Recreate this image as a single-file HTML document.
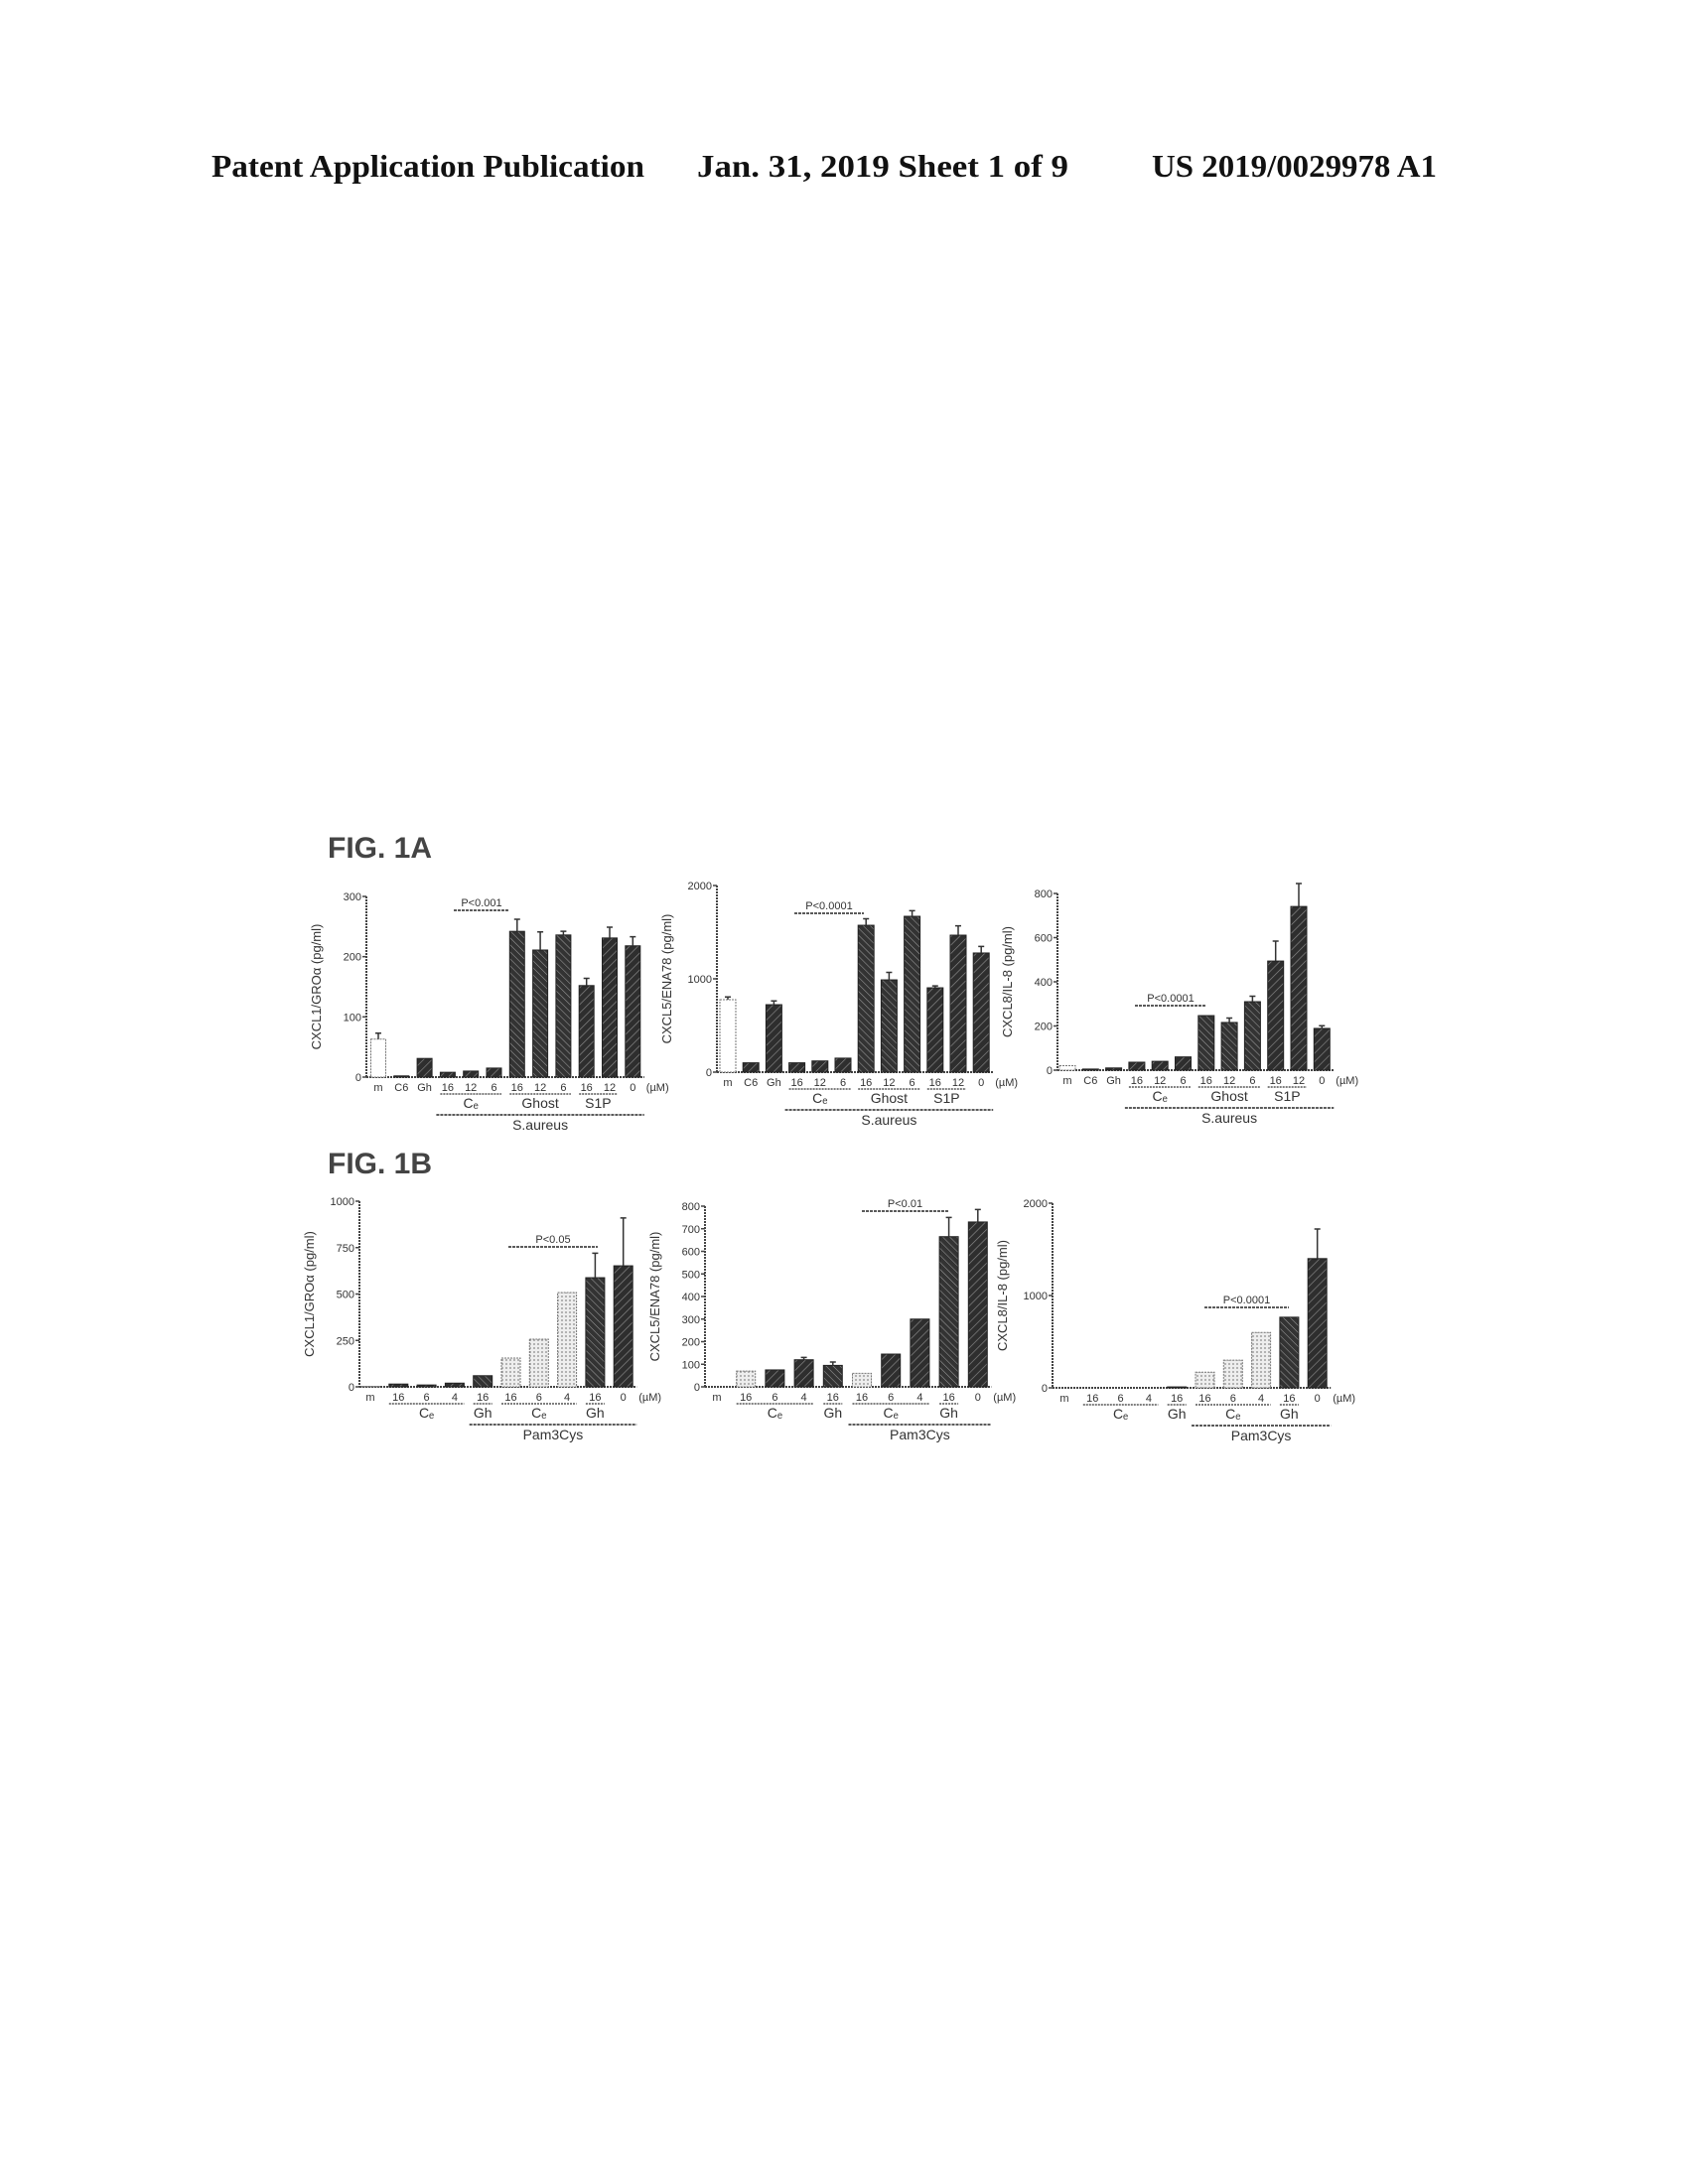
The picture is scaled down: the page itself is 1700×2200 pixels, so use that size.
<!DOCTYPE html>
<html><head><meta charset="utf-8"><style>
html,body{margin:0;padding:0;background:#fff;}
svg{display:block;}
text{font-family:"Liberation Sans",sans-serif;fill:#333;}
.hdr{font-family:"Liberation Serif",serif;font-weight:bold;fill:#111;font-size:32px;}
</style></head><body>
<svg id="page" width="1700" height="2200" viewBox="0 0 1700 2200" xmlns="http://www.w3.org/2000/svg">
<defs>
<pattern id="hatchD" width="6" height="6" patternUnits="userSpaceOnUse" patternTransform="rotate(45)">
<rect width="6" height="6" fill="#2e2e2e"/><line x1="0" y1="0" x2="0" y2="6" stroke="#8a8a8a" stroke-width="1.3"/></pattern>
<pattern id="hatchX" width="5" height="5" patternUnits="userSpaceOnUse" patternTransform="rotate(-45)">
<rect width="5" height="5" fill="#333"/><line x1="0" y1="0" x2="0" y2="5" stroke="#999" stroke-width="1.1"/></pattern>
<pattern id="dots" width="4" height="4" patternUnits="userSpaceOnUse">
<rect width="4" height="4" fill="#eee"/><circle cx="2" cy="2" r="0.9" fill="#888"/></pattern>
</defs>
<g>
<text class="hdr" x="213" y="178" textLength="436" lengthAdjust="spacingAndGlyphs">Patent Application Publication</text>
<text class="hdr" x="702" y="178" textLength="374" lengthAdjust="spacingAndGlyphs">Jan. 31, 2019  Sheet 1 of 9</text>
<text class="hdr" x="1160" y="178" textLength="287" lengthAdjust="spacingAndGlyphs">US 2019/0029978 A1</text>
</g>
<text x="330" y="864" font-size="30" font-weight="bold" style="fill:#444">FIG. 1A</text>
<text x="330" y="1182" font-size="30" font-weight="bold" style="fill:#444">FIG. 1B</text>
<g id="charts"></g>
</svg>
<script>
// Panel data
const catsA = ["m","C6","Gh","16","12","6","16","12","6","16","12","0"];
const valsA1 = [63,2,31,8,10,15,242,211,236,152,231,218];
const errA1 = [10,0,0,0,0,0,20,30,6,12,18,15];
const valsA2 = [776,100,723,100,120,150,1574,989,1670,904,1468,1277];
const errA2 = [30,0,40,0,0,0,70,80,60,20,100,70];
const valsA3 = [20,5,10,36,40,60,247,216,310,494,741,189];
const errA3 = [0,0,0,0,0,0,0,20,25,90,104,12];
const catsB = ["m","16","6","4","16","16","6","4","16","0"];
const valsB1 = [2,15,10,20,60,155,257,508,588,652];
const errB1 = [0,0,0,0,0,0,0,0,132,258];
const valsB2 = [0,70,75,120,95,60,145,300,665,730];
const errB2 = [0,0,0,10,15,0,0,0,85,55];
const valsB3 = [0,0,0,0,10,170,300,600,765,1400];
const errB3 = [0,0,0,0,0,0,0,0,0,320];
const ticksA1 = [0,100,200,300];
const ticksA2 = [0,1000,2000];
const ticksA3 = [0,200,400,600,800];
const ticksB1 = [0,250,500,750,1000];
const ticksB2 = [0,100,200,300,400,500,600,700,800];
const ticksB3 = [0,1000,2000];

const NS="http://www.w3.org/2000/svg";
const root=document.getElementById('charts');
function mk(tag,attrs,parent){const e=document.createElementNS(NS,tag);for(const k in attrs)e.setAttribute(k,attrs[k]);(parent||root).appendChild(e);return e;}

const panels=[
 {id:"a1",cats:catsA,vals:valsA1,errs:errA1,ticks:ticksA1,max:300,ax:369,top:903,base:1085,x0:381,step:23.3,w:15,
  ylab:"CXCL1/GROα (pg/ml)",styles:"odddddxxxddd",p:"P<0.001",px1:457,px2:513,py:917,
  groups:[["Cₑ",3,5],["Ghost",6,8],["S1P",9,10]],big:["S.aureus",3,11]},
 {id:"a2",cats:catsA,vals:valsA2,errs:errA2,ticks:ticksA2,max:2000,ax:722,top:892,base:1080,x0:733,step:23.2,w:16,
  ylab:"CXCL5/ENA78 (pg/ml)",styles:"odddddxxxddd",p:"P<0.0001",px1:800,px2:870,py:920,
  groups:[["Cₑ",3,5],["Ghost",6,8],["S1P",9,10]],big:["S.aureus",3,11]},
 {id:"a3",cats:catsA,vals:valsA3,errs:errA3,ticks:ticksA3,max:800,ax:1065,top:900,base:1078,x0:1075,step:23.3,w:16,
  ylab:"CXCL8/IL-8 (pg/ml)",styles:"odddddxxxddd",p:"P<0.0001",px1:1143,px2:1215,py:1013,
  groups:[["Cₑ",3,5],["Ghost",6,8],["S1P",9,10]],big:["S.aureus",3,11]},
 {id:"b1",cats:catsB,vals:valsB1,errs:errB1,ticks:ticksB1,max:1000,ax:362,top:1210,base:1397,x0:373,step:28.3,w:19,
  ylab:"CXCL1/GROα (pg/ml)",styles:"odddxlllxd",p:"P<0.05",px1:512,px2:602,py:1256,
  groups:[["Cₑ",1,3],["Gh",4,4],["Cₑ",5,7],["Gh",8,8]],big:["Pam3Cys",4,9]},
 {id:"b2",cats:catsB,vals:valsB2,errs:errB2,ticks:ticksB2,max:800,ax:710,top:1215,base:1397,x0:722,step:29.2,w:19,
  ylab:"CXCL5/ENA78 (pg/ml)",styles:"olddxlddxd",p:"P<0.01",px1:868,px2:955,py:1220,
  groups:[["Cₑ",1,3],["Gh",4,4],["Cₑ",5,7],["Gh",8,8]],big:["Pam3Cys",5,9]},
 {id:"b3",cats:catsB,vals:valsB3,errs:errB3,ticks:ticksB3,max:2000,ax:1060,top:1212,base:1398,x0:1072,step:28.3,w:19,
  ylab:"CXCL8/IL-8 (pg/ml)",styles:"odddxlllxd",p:"P<0.0001",px1:1213,px2:1298,py:1317,
  groups:[["Cₑ",1,3],["Gh",4,4],["Cₑ",5,7],["Gh",8,8]],big:["Pam3Cys",5,9]}
];
const fills={o:"#fff",d:"url(#hatchD)",x:"url(#hatchX)",l:"url(#dots)"};

panels.forEach(P=>{
 const g=mk('g',{});
 
 
 const y=v=>P.base-(v/P.max)*(P.base-P.top);
 const xc=i=>P.x0+i*P.step;
 const lastX=xc(P.cats.length-1)+P.w/2+4;
 const yax=mk('line',{x1:P.ax,y1:P.top,x2:P.ax,y2:P.base,stroke:"#444","stroke-width":2,"stroke-dasharray":"2 1"},g);
 
 
 const xax=mk('line',{x1:P.ax,y1:P.base,x2:lastX,y2:P.base,stroke:"#444","stroke-width":2,"stroke-dasharray":"2 1"},g);
 
 
 P.ticks.forEach(t=>{
  mk('line',{x1:P.ax-4,y1:y(t),x2:P.ax,y2:y(t),stroke:"#444","stroke-width":1.5},g);
  const tl=mk('text',{x:P.ax-5,y:y(t)+4,"font-size":11,"text-anchor":"end"},g);
  tl.textContent=t;
  
  
 });
 const cy=(P.top+P.base)/2;
 const yl=mk('text',{x:P.ax-46,y:cy,"font-size":13,"text-anchor":"middle",transform:`rotate(-90 ${P.ax-46} ${cy})`},g);
 yl.textContent=P.ylab;
 
 
 P.vals.forEach((v,i)=>{
  const st=P.styles[i];
  const h=Math.max(P.base-y(v),0);
  const b=mk('rect',{x:xc(i)-P.w/2,y:y(v),width:P.w,height:h,fill:fills[st],stroke:st==="o"||st==="l"?"#777":"#222","stroke-width":1,"stroke-dasharray":st==="o"||st==="l"?"2 1":"none"},g);
  
  
  if(P.errs[i]>0){
   const e=mk('path',{d:`M${xc(i)} ${y(v)} V${y(v+P.errs[i])} M${xc(i)-3} ${y(v+P.errs[i])} H${xc(i)+3}`,stroke:"#333","stroke-width":1.5,fill:"none"},g);
   
   
  }
  const cl=mk('text',{x:xc(i),y:P.base+14,"font-size":11,"text-anchor":"middle"},g);
  cl.textContent=P.cats[i];
  
  
 });
 const um=mk('text',{x:lastX+2,y:P.base+14,"font-size":11},g);
 um.textContent="(µM)";
 
 
 P.groups.forEach(G=>{
  const a=xc(G[1])-P.w/2,b=xc(G[2])+P.w/2;
  mk('line',{x1:a,y1:P.base+17,x2:b,y2:P.base+17,stroke:"#555","stroke-width":1.5,"stroke-dasharray":"2 1"},g);
  const gt=mk('text',{x:(a+b)/2,y:P.base+31,"font-size":14,"text-anchor":"middle"},g);
  gt.textContent=G[0];
  
  
 });
 const ba=xc(P.big[1])-P.w/2-4,bb=xc(P.big[2])+P.w/2+4;
 mk('line',{x1:ba,y1:P.base+38,x2:bb,y2:P.base+38,stroke:"#444","stroke-width":1.8,"stroke-dasharray":"3 1"},g);
 const bt=mk('text',{x:(ba+bb)/2,y:P.base+53,"font-size":14,"text-anchor":"middle"},g);
 bt.textContent=P.big[0];
 
 
 mk('line',{x1:P.px1,y1:P.py,x2:P.px2,y2:P.py,stroke:"#444","stroke-width":1.8,"stroke-dasharray":"3 1"},g);
 const pt=mk('text',{x:(P.px1+P.px2)/2,y:P.py-4,"font-size":11,"text-anchor":"middle"},g);
 pt.textContent=P.p;
 
 
});
</script>
</body></html>
